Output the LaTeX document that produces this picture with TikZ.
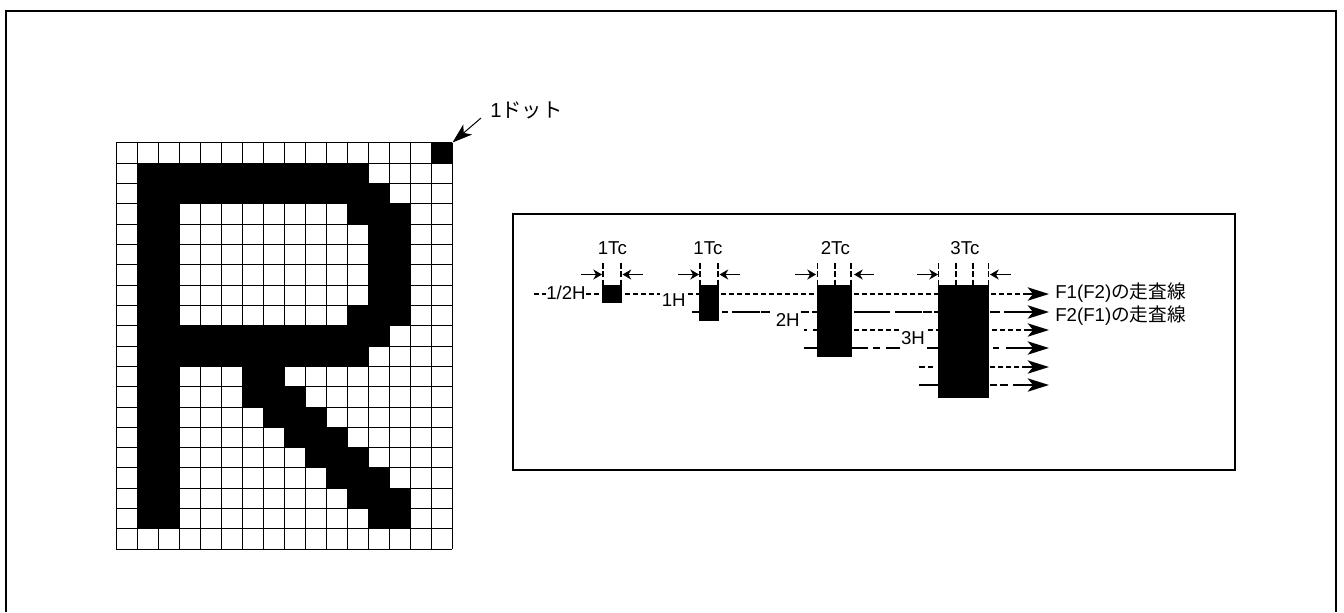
\documentclass[tikz,border=0pt]{standalone}
\usepackage{fontspec}
\setmainfont{Liberation Sans}
\newfontfamily\cjk{Noto Sans CJK JP}
\usetikzlibrary{arrows.meta}
\tikzset{
 frameline/.style={draw=black,line width=1.7pt},
 boxline/.style={draw=black,line width=1.1pt},
 gridline/.style={draw=black,line width=0.75pt},
 lbl/.style={font=\fontsize{14}{15}\selectfont,inner sep=0pt,text=black},
 scan/.style={line width=1.4pt},
 fine/.style={scan,dash pattern=on 3.7pt off 2.3pt},
 tickline/.style={line width=1.4pt,dash pattern=on 4.2pt off 2pt},
 head/.style={-{Stealth[length=16pt,width=10pt,inset=4pt]},line width=1.4pt},
 inarrow/.style={-{Stealth[length=6.5pt,width=7.5pt,inset=2pt]},line width=1pt},
}
\newcommand{\segs}[2]{\foreach \a/\b in {#2} \draw[scan] (\a,#1) -- (\b,#1);}
\newcommand{\tcl}[1]{#1T{}{c}}
\begin{document}
\begin{tikzpicture}[x=0.75pt,y=-0.75pt]
\useasboundingbox (0,0) rectangle (1344,612);
\fill[white] (0,0) rectangle (1344,612);
\draw[frameline] (6,612) -- (6,11) -- (1336,11) -- (1336,612);
% dot grid
\def\gx{116} \def\gy{142.7} \def\cw{21} \def\ch{20.33}
\foreach \i in {0,...,16} \draw[gridline] ({\gx+\i*\cw},\gy) -- ({\gx+\i*\cw},{\gy+20*\ch});
\foreach \j in {0,...,20} \draw[gridline] (\gx,{\gy+\j*\ch}) -- ({\gx+16*\cw},{\gy+\j*\ch});
\foreach \r/\a/\b in {0/15/16,1/1/12,2/1/13,3/1/3,3/11/14,4/1/3,4/12/14,5/1/3,5/12/14,6/1/3,6/12/14,7/1/3,7/12/14,8/1/3,8/11/14,9/1/13,10/1/12,
 11/1/3,11/6/8,12/1/3,12/6/9,13/1/3,13/7/10,14/1/3,14/8/11,15/1/3,15/9/12,16/1/3,16/10/13,17/1/3,17/11/14,18/1/3,18/12/14}
 \fill[black] ({\gx+\a*\cw},{\gy+\r*\ch}) rectangle ({\gx+\b*\cw},{\gy+(\r+1)*\ch});
\coordinate (dotcorner) at (452.5,142.5);
\node[lbl,anchor=west,font=\fontsize{15.2}{16}\selectfont] (dotlabel) at (490,110.7) {1{\cjk ドット}};
\coordinate (dotfrom) at (481,118);
\draw[-{Stealth[length=15pt,width=10pt,inset=4pt]},line width=0.75pt] (dotfrom) -- (dotcorner);
% inner box
\draw[boxline] (513,214) rectangle (1235,470);
% pulses
\fill[black] (602,285) rectangle (622,303);
\fill[black] (699,285) rectangle (719,321);
\fill[black] (817,285) rectangle (852,357);
\fill[black] (938,285) rectangle (989,397.5);
% Tc labels
\node[lbl] (t1) at (612.3,248.5) {\tcl{1}};
\node[lbl] (t2) at (708,248.5) {\tcl{1}};
\node[lbl] (t3) at (835.3,248.5) {\tcl{2}};
\node[lbl] (t4) at (965,248.5) {\tcl{3}};
% ticks
\foreach \x in {603,621,700,718,817.5,835,851,938.5,956,973,988.5}
 \draw[tickline] (\x,263) -- (\x,285);
% width arrows
\foreach \a/\b in {581/602,643/622.5,678/699,740/719.5,795/816,874/854,917/938,1011/990}
 \draw[inarrow] (\a,274.5) -- (\b,274.5);
% row 1
\draw[fine] (534,294) -- (546,294);
\draw[fine] (586,294) -- (602,294);
\draw[fine] (625,294) -- (660,294);
\draw[fine] (688,294) -- (699,294);
\draw[fine] (721,294) -- (817,294);
\draw[fine] (854,294) -- (938,294);
\draw[fine] (991,294) -- (1028,294);
\draw[head] (1024,294) -- (1049,294);
% row 2
\segs{312}{692/699,722/728,732/760,761/770,801/809,812/817,854/890,895/922,923/932,934/938,990/1000,1004/1028}
\draw[head] (1024,312) -- (1049,312);
% row 3
\segs{330}{804/807,813/817}
\draw[fine] (854,330) -- (900,330);
\draw[fine] (928,330) -- (938,330);
\draw[fine] (992,330) -- (1028,330);
\draw[head] (1024,330) -- (1049,330);
% row 4
\segs{348}{804/817,852/868,873/880,886/900,927/938,993/999,1006/1028}
\draw[head] (1024,348) -- (1049,348);
% row 5
\segs{367}{919/925,928/933}
\draw[fine] (990,367) -- (1028,367);
\draw[head] (1024,367) -- (1049,367);
% row 6
\segs{385}{919/938,990/997,1000/1008,1013/1028}
\draw[head] (1024,385) -- (1049,385);
% H labels
\node[lbl] (h0) at (566,293.3) {1/2H};
\node[lbl] (h1) at (673.7,300) {1H};
\node[lbl] (h2) at (787.7,320) {2H};
\node[lbl] (h3) at (913,337.7) {3H};
% line labels
\node[lbl,anchor=west] (f1) at (1055,292.3) {F1(F2){\cjk の走査線}};
\node[lbl,anchor=west] (f2) at (1055,315.7) {F2(F1){\cjk の走査線}};
\end{tikzpicture}
\end{document}
